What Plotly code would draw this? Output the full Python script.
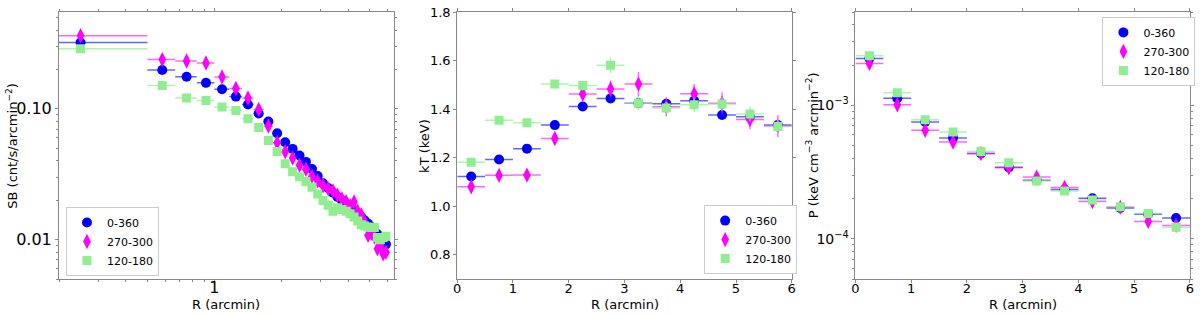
import plotly.graph_objects as go
import numpy as np

# ---------------- data ----------------
labels = ["0-360", "270-300", "120-180"]
colors = ["rgb(0,0,255)", "rgb(255,0,255)", "rgb(144,238,144)"]
err_colors = ["rgba(0,0,255,0.6)", "rgba(255,0,255,0.6)", "rgba(144,238,144,0.7)"]
symbols = ["circle", "diamond-tall", "square"]
msizes = [10, 11, 9]

# Left panel: surface brightness
sb_r = [0.25, 0.583, 0.75, 0.917, 1.083, 1.25, 1.417, 1.583, 1.75, 1.917, 2.083, 2.25,
        2.417, 2.583, 2.75, 2.917, 3.083, 3.25, 3.417, 3.583, 3.75, 3.917, 4.083, 4.25,
        4.417, 4.583, 4.75, 4.917, 5.083, 5.25, 5.417, 5.583, 5.75, 5.917]
sb_rerr_lo = [0.249] + [1 / 12] * 33
sb_rerr_hi = [0.25] + [1 / 12] * 33
sb_all = [0.321, 0.198, 0.176, 0.158, 0.141, 0.124, 0.108, 0.092, 0.080, 0.065, 0.0555, 0.0494,
          0.0440, 0.0393, 0.0347, 0.0306, 0.0270, 0.0248, 0.0228, 0.0212, 0.0200, 0.0187, 0.0177,
          0.0167, 0.0158, 0.0149, 0.0140, 0.0132, 0.0125, 0.0117, 0.0110, 0.0103, 0.0097, 0.0092]
sb_270 = [0.362, 0.238, 0.232, 0.224, 0.175, 0.143, 0.121, 0.099, 0.074, 0.055, 0.047, 0.042,
          0.037, 0.0345, 0.0305, 0.028, 0.0258, 0.0245, 0.0236, 0.0218, 0.0205, 0.0195, 0.0182,
          0.0194, 0.0165, 0.0155, 0.0135, 0.0108, 0.0112, 0.0105, 0.0085, 0.0090, 0.0078, 0.0080]
sb_120 = [0.288, 0.151, 0.121, 0.116, 0.1035, 0.097, 0.084, 0.072, 0.0572, 0.0472, 0.0381, 0.033,
          0.0303, 0.0278, 0.0251, 0.0223, 0.0199, 0.0183, 0.0165, 0.0175, 0.017, 0.0165, 0.0158,
          0.0149, 0.0139, 0.0130, 0.0127, 0.0125, 0.0124, 0.0124, 0.0104, 0.0100, 0.0104, 0.0106]

# Middle & right panels: radial bins
r_bins = [0.25, 0.75, 1.25, 1.75, 2.25, 2.75, 3.25, 3.75, 4.25, 4.75, 5.25, 5.75]
r_half = [0.25] * 12

kt_all = [1.122, 1.192, 1.237, 1.334, 1.411, 1.444, 1.424, 1.422, 1.434, 1.376, 1.368, 1.334]
kt_270 = [1.080, 1.127, 1.128, 1.279, 1.462, 1.483, 1.503, 1.410, 1.463, 1.424, 1.357, 1.330]
kt_120 = [1.181, 1.354, 1.344, 1.503, 1.497, 1.581, 1.424, 1.404, 1.418, 1.421, 1.380, 1.328]
kt_all_err = [0.006, 0.006, 0.007, 0.008, 0.009, 0.010, 0.012, 0.012, 0.013, 0.012, 0.013, 0.014]
kt_270_err = [0.015, 0.012, 0.012, 0.022, 0.030, 0.035, 0.050, 0.040, 0.040, 0.045, 0.040, 0.045]
kt_120_err = [0.010, 0.010, 0.010, 0.012, 0.020, 0.033, 0.030, 0.025, 0.030, 0.030, 0.030, 0.030]

p_all = [2.24e-3, 1.13e-3, 7.5e-4, 5.7e-4, 4.36e-4, 3.43e-4, 2.74e-4, 2.34e-4, 2.01e-4, 1.70e-4, 1.53e-4, 1.43e-4]
p_270 = [2.06e-3, 1.01e-3, 6.5e-4, 5.3e-4, 4.36e-4, 3.40e-4, 2.90e-4, 2.42e-4, 1.90e-4, 1.72e-4, 1.35e-4, 1.26e-4]
p_120 = [2.35e-3, 1.24e-3, 7.8e-4, 6.3e-4, 4.51e-4, 3.72e-4, 2.71e-4, 2.28e-4, 1.95e-4, 1.74e-4, 1.55e-4, 1.22e-4]

# ---------------- figure ----------------
L, R_, T, B = 59, 5, 7, 36
W, H = 1200, 315
PW, PH = W - L - R_, H - T - B


def px(x):
    return (x - L) / PW


def py(y):
    return (H - B - y) / PH


fig = go.Figure()

sb_series = [sb_all, sb_270, sb_120]
kt_series = [kt_all, kt_270, kt_120]
kt_errs = [kt_all_err, kt_270_err, kt_120_err]
p_series = [p_all, p_270, p_120]

for i in range(3):
    fig.add_trace(go.Scatter(
        x=sb_r, y=sb_series[i], mode="markers", name=labels[i], legend="legend",
        marker=dict(symbol=symbols[i], size=msizes[i], color=colors[i], line=dict(width=0)),
        error_x=dict(type="data", symmetric=False, array=sb_rerr_hi, arrayminus=sb_rerr_lo,
                     color=err_colors[i], thickness=1.5, width=0),
        error_y=dict(type="percent", value=3, color=err_colors[i], thickness=1.5, width=0),
        xaxis="x", yaxis="y"))
for i in range(3):
    fig.add_trace(go.Scatter(
        x=r_bins, y=kt_series[i], mode="markers", name=labels[i], legend="legend2",
        marker=dict(symbol=symbols[i], size=msizes[i], color=colors[i], line=dict(width=0)),
        error_x=dict(type="data", array=r_half, color=err_colors[i], thickness=1.5, width=0),
        error_y=dict(type="data", array=kt_errs[i], color=err_colors[i], thickness=1.5, width=0),
        xaxis="x2", yaxis="y2"))
for i in range(3):
    fig.add_trace(go.Scatter(
        x=r_bins, y=p_series[i], mode="markers", name=labels[i], legend="legend3",
        marker=dict(symbol=symbols[i], size=msizes[i], color=colors[i], line=dict(width=0)),
        error_x=dict(type="data", array=r_half, color=err_colors[i], thickness=1.5, width=0),
        error_y=dict(type="percent", value=4, color=err_colors[i], thickness=1.5, width=0),
        xaxis="x3", yaxis="y3"))

font = "DejaVu Sans"
axis_common = dict(showline=True, linecolor="#888888", linewidth=1, mirror="ticks",
                   ticks="outside", tickcolor="#888888", ticklen=3, showgrid=False,
                   zeroline=False, tickfont=dict(family=font, size=13, color="black"))
xshift = dict(ticklabelstandoff=-6)

d1 = [0, px(395)]
d2 = [px(459), px(795)]
d3 = [px(859), 1.0]

left_xminor = [0.2, 0.3, 0.4, 0.5, 0.6, 0.7, 0.8, 0.9, 2, 3, 4, 5, 6]
left_yminor = [0.005, 0.006, 0.007, 0.008, 0.009, 0.02, 0.03, 0.04, 0.05, 0.06, 0.07, 0.08, 0.09,
               0.2, 0.3, 0.4, 0.5]
right_yminor = [5e-5, 6e-5, 7e-5, 8e-5, 9e-5, 2e-4, 3e-4, 4e-4, 5e-4, 6e-4, 7e-4, 8e-4, 9e-4,
                2e-3, 3e-3, 4e-3, 5e-3]

minor_style = dict(ticks="outside", ticklen=2, tickcolor="#888888", tickmode="array")
big_tick = dict(family=font, size=16, color="black")

fig.update_layout(
    width=W, height=H,
    margin=dict(l=L, r=R_, t=T, b=B),
    plot_bgcolor="white", paper_bgcolor="white",
    font=dict(family=font, size=13, color="black"),
    xaxis=dict(domain=d1, type="log", range=[np.log10(0.2), np.log10(6.4)],
               tickmode="array", tickvals=[1], ticktext=["1"],
               minor=dict(tickvals=left_xminor, **minor_style),
               **{**axis_common, "tickfont": big_tick}, anchor="y", ticklabelstandoff=-9),
    yaxis=dict(domain=[0, 1], type="log", range=[np.log10(0.005), np.log10(0.55)],
               tickmode="array", tickvals=[0.01, 0.1], ticktext=["0.01", "0.10"],
               minor=dict(tickvals=left_yminor, **minor_style),
               **{**axis_common, "tickfont": big_tick}, anchor="x"),
    xaxis2=dict(domain=d2, range=[0, 6], dtick=1, tick0=0, anchor="y2", **axis_common, **xshift),
    yaxis2=dict(domain=[0, 1], range=[0.7, 1.8], tickmode="array",
                tickvals=[0.8, 1.0, 1.2, 1.4, 1.6, 1.8],
                ticktext=["0.8", "1.0", "1.2", "1.4", "1.6", "1.8"], anchor="x2", **axis_common),
    xaxis3=dict(domain=d3, range=[0, 6], dtick=1, tick0=0, anchor="y3", **axis_common, **xshift),
    yaxis3=dict(domain=[0, 1], type="log", range=[np.log10(5e-5), np.log10(5e-3)],
                tickmode="array", tickvals=[1e-4, 1e-3],
                ticktext=["10<sup>−4</sup>", "10<sup>−3</sup>"],
                minor=dict(tickvals=right_yminor, **minor_style), anchor="x3",
                **{**axis_common, "tickfont": dict(family=font, size=14, color="black")}),
    showlegend=True,
)

leg_common = dict(bgcolor="white", bordercolor="#cccccc", borderwidth=1,
                  font=dict(family=font, size=11, color="black"),
                  xanchor="left", tracegroupgap=0, itemwidth=30, itemsizing="trace")
fig.update_layout(
    legend=dict(x=px(66), y=py(276), yanchor="bottom", **leg_common),
    legend2=dict(x=px(707), y=py(274), yanchor="bottom", **leg_common),
    legend3=dict(x=px(1107), y=py(12), yanchor="top", **leg_common),
)

ann = []
for cx in [227, 627, 1027]:
    ann.append(dict(text="R (arcmin)", x=px(cx), y=py(305), xref="paper", yref="paper",
                    showarrow=False, xanchor="center", yanchor="middle",
                    font=dict(family=font, size=13, color="black")))
ytitles = [("SB (cnt/s/arcmin<sup>−2</sup>)", 11),
           ("kT (keV)", 426),
           ("P (keV cm<sup>−3</sup> arcmin<sup>−2</sup>)", 815)]
for txt, cx in ytitles:
    ann.append(dict(text=txt, x=px(cx), y=py(143), xref="paper", yref="paper",
                    showarrow=False, xanchor="center", yanchor="middle", textangle=-90,
                    font=dict(family=font, size=13, color="black")))
fig.update_layout(annotations=ann)

fig.write_html("out.html", config={"displayModeBar": False},
               post_script="document.body.style.margin='0';document.body.style.padding='0';"
                           "document.body.style.overflow='hidden';")
